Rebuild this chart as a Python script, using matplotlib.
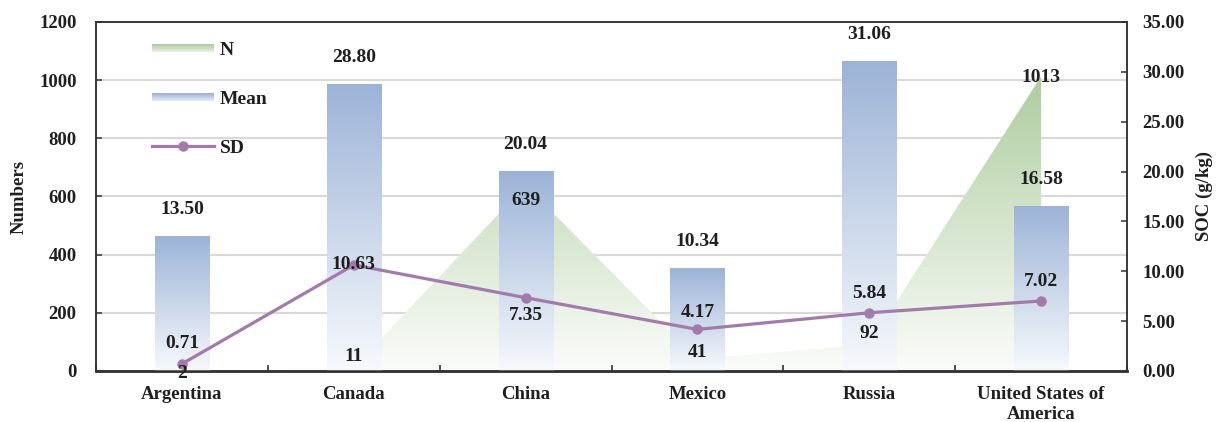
import numpy as np
import matplotlib
matplotlib.use("Agg")
import matplotlib.pyplot as plt
from matplotlib.patches import Polygon, Rectangle
from matplotlib.lines import Line2D
from matplotlib.legend_handler import HandlerBase
from matplotlib.colors import to_rgb

# ---- data ----
countries = ["Argentina", "Canada", "China", "Mexico", "Russia", "United States of\nAmerica"]
n_records = [2, 11, 639, 41, 92, 1013]
soc_mean = [13.50, 28.80, 20.04, 10.34, 31.06, 16.58]
soc_sd = [0.71, 10.63, 7.35, 4.17, 5.84, 7.02]
left_ticks = [0, 200, 400, 600, 800, 1000, 1200]
right_ticks = [0, 5, 10, 15, 20, 25, 30, 35]

# label nudges (points) for the N and SD value labels
n_label_dy = [-2, 8, -11, 5, 8, -1]
sd_label_dy = [15, 0, -13, 12, 14, 14]

# ---- style ----
plt.rcParams["font.family"] = ["Liberation Serif", "DejaVu Serif"]
plt.rcParams["font.weight"] = "bold"
TEXT = "#1f1f1f"
BAR_TOP, BAR_BOT = "#9cb3d7", "#f7f9fc"
AREA_TOP, AREA_BOT = "#aecd9f", "#fbfcfa"
SD_COLOR = "#a27bab"
GRID = "#d9d9d9"
TICK_FS = 13.5
LABEL_FS = 14


def vgrad(top, bottom, n=256):
    t = np.array(to_rgb(top))
    b = np.array(to_rgb(bottom))
    f = np.linspace(0, 1, n)[:, None]
    return (b * (1 - f) + t * f)[:, None, :]  # row 0 = bottom


fig = plt.figure(figsize=(12.2, 4.22), dpi=100)
ax = fig.add_axes([0.0787, 0.1209, 0.8451, 0.8270])
ax2 = ax.twinx()

x = np.arange(len(countries))
ax.set_xlim(-0.5, len(countries) - 0.5)
ax.set_ylim(0, 1200)
ax2.set_ylim(0, 35)

# grid
ax.set_axisbelow(True)
ax.yaxis.grid(True, color=GRID, lw=1.5)
ax.set_yticks(left_ticks)
ax.set_yticklabels([str(v) for v in left_ticks])

# ---- N: gradient-filled area on the left axis ----
verts = [(x[0], 0)] + list(zip(x, n_records)) + [(x[-1], 0)]
area_clip = Polygon(verts, closed=True, facecolor="none", edgecolor="none",
                    transform=ax.transData)
ax.add_patch(area_clip)
im = ax.imshow(vgrad(AREA_TOP, AREA_BOT), origin="lower", aspect="auto",
               extent=(x[0], x[-1], 0, max(n_records)), zorder=2,
               interpolation="bilinear")
im.set_clip_path(area_clip)
ax.set_xlim(-0.5, len(countries) - 0.5)
ax.set_ylim(0, 1200)

# ---- Mean: gradient bars on the right axis ----
bars = ax2.bar(x, soc_mean, width=0.315, facecolor="none", edgecolor="none", zorder=2)
for b in bars:
    bim = ax2.imshow(vgrad(BAR_TOP, BAR_BOT), origin="lower", aspect="auto",
                     extent=(b.get_x(), b.get_x() + b.get_width(), 0, b.get_height()),
                     zorder=2, interpolation="bilinear")
    bim.set_clip_path(b)
ax2.set_xlim(-0.5, len(countries) - 0.5)
ax2.set_ylim(0, 35)

# ---- SD: line with markers ----
ax2.plot(x, soc_sd, color=SD_COLOR, lw=2.3, marker="o", ms=6.5, zorder=4)

# ---- value labels (all on the top axes so bars never hide them) ----
lab_kw = dict(ha="center", va="center", fontsize=LABEL_FS, fontweight="bold", color=TEXT,
              textcoords="offset points", zorder=6, annotation_clip=False)
for xi, v in zip(x, soc_mean):
    ax2.annotate(f"{v:.2f}", (xi, v), xytext=(0, 19), **lab_kw)
for xi, v, dy in zip(x, soc_sd, sd_label_dy):
    ax2.annotate(f"{v:.2f}", (xi, v), xytext=(0, dy), **lab_kw)
for xi, v, dy in zip(x, n_records, n_label_dy):
    ax2.annotate(f"{v}", (xi, v), xycoords=ax.transData, xytext=(0, dy), **lab_kw)

# ---- axes cosmetics ----
ax2.set_yticks(right_ticks)
ax2.set_yticklabels([f"{v:.2f}" for v in right_ticks])
ax.set_xticks(x)
ax.set_xticklabels(countries, fontsize=TICK_FS, fontweight="bold", color=TEXT,
                   linespacing=1.2)
ax.set_xticks(np.arange(-0.5, len(countries)), minor=True)
ax.tick_params(axis="x", which="major", length=0, pad=11)
ax.tick_params(axis="x", which="minor", length=0)
# category separators drawn from the upper axes so the area does not cover them
ax2.xaxis.set_visible(True)
ax2.tick_params(axis="x", which="both", labelbottom=False, labeltop=False,
                bottom=True, top=False)
ax2.tick_params(axis="x", which="major", length=0)
ax2.tick_params(axis="x", which="minor", direction="in", length=4, width=1.2, color="#333333")

ax.tick_params(axis="y", direction="in", length=4, width=1.1, color="#333333",
               labelsize=TICK_FS, labelcolor=TEXT, pad=14)
ax2.tick_params(axis="y", direction="in", length=4, width=1.1, color="#333333",
                labelsize=TICK_FS, labelcolor=TEXT, pad=11)
for t in ax.get_yticklabels() + ax2.get_yticklabels():
    t.set_fontweight("bold")

for a in (ax, ax2):
    for side in ("left", "right", "top"):
        a.spines[side].set_color("#333333")
        a.spines[side].set_linewidth(1.1)
    a.spines["bottom"].set_color("#333333")
    a.spines["bottom"].set_linewidth(1.8)

ax.set_ylabel("Numbers", fontsize=TICK_FS, fontweight="bold", color=TEXT, labelpad=8)
ax2.set_ylabel("SOC (g/kg)", fontsize=TICK_FS, fontweight="bold", color=TEXT,
               labelpad=8, rotation=90)


# ---- legend ----
class GradientBand(HandlerBase):
    def __init__(self, top, bottom, steps=8):
        super().__init__()
        self.top = np.array(to_rgb(top))
        self.bottom = np.array(to_rgb(bottom))
        self.steps = steps

    def create_artists(self, legend, orig_handle, xdescent, ydescent, width,
                       height, fontsize, trans):
        h = height * 0.6
        y0 = -ydescent + (height - h) / 2
        arts = []
        for i in range(self.steps):
            f = i / (self.steps - 1)
            c = self.top * (1 - f) + self.bottom * f
            yy = y0 + h * (1 - (i + 1) / self.steps)
            arts.append(Rectangle((-xdescent, yy), width, h / self.steps,
                                  facecolor=c, edgecolor="none", transform=trans))
        return arts


class _Band:
    pass


h_n, h_mean = _Band(), _Band()
h_sd = Line2D([], [], color=SD_COLOR, lw=2.3, marker="o", ms=6.5)
leg = ax2.legend([h_n, h_mean, h_sd], ["N", "Mean", "SD"],
                 handler_map={h_n: GradientBand(AREA_TOP, "#e6efe0"),
                              h_mean: GradientBand(BAR_TOP, "#e3e9f4")},
                 loc="upper left", bbox_to_anchor=(0.037, 0.995), frameon=False,
                 handlelength=3.2, handletextpad=0.3, labelspacing=1.62,
                 prop={"family": "Liberation Serif", "weight": "bold", "size": LABEL_FS})
for t in leg.get_texts():
    t.set_color(TEXT)

fig.savefig("out.png", dpi=100)
